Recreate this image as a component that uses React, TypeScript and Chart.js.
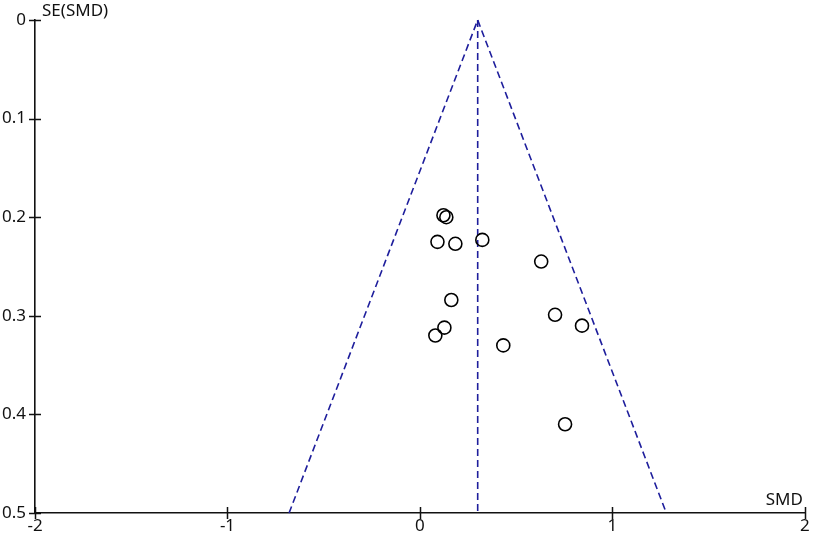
import React, { useEffect, useRef } from "react";
import { Chart, registerables } from "chart.js";

Chart.register(...registerables);

// Study estimates (SMD) and their standard errors
const smd = [0.122, 0.137, 0.091, 0.184, 0.324, 0.63, 0.163, 0.702, 0.842, 0.127, 0.08, 0.433, 0.754];
const se = [0.198, 0.2, 0.225, 0.227, 0.223, 0.245, 0.284, 0.299, 0.31, 0.312, 0.32, 0.33, 0.41];

// Funnel (pooled estimate and 95% limits at SE = 0.5)
const pooled = 0.3;
const funnelX = [-0.68, 0.3, 1.28];
const funnelY = [0.5, 0, 0.5];
const centerY = [0, 0.5];

const xTicks = [-2, -1, 0, 1, 2];
const yTicks = [0, 0.1, 0.2, 0.3, 0.4, 0.5];

const FONT = "'Noto Sans', 'Open Sans', sans-serif";
const BLUE = "#1e1e9c";

const extras = {
  id: "extras",
  afterDraw(chart: any) {
    const ctx = chart.ctx;
    const xs = chart.scales.x;
    const ys = chart.scales.y;
    const axX = xs.left;
    const axY = ys.bottom;
    ctx.save();
    ctx.strokeStyle = "#111";
    ctx.lineWidth = 1.5;
    ctx.beginPath();
    for (const v of yTicks) {
      const p = Math.round(ys.getPixelForValue(v)) + 0.5;
      ctx.moveTo(axX - 6, p);
      ctx.lineTo(axX + 6, p);
    }
    for (const v of xTicks) {
      const p = Math.round(xs.getPixelForValue(v)) + 0.5;
      ctx.moveTo(p, axY - 6);
      ctx.lineTo(p, axY + 6);
    }
    ctx.stroke();
    ctx.fillStyle = "#111";
    ctx.font = "17px " + FONT;
    ctx.textAlign = "left";
    ctx.textBaseline = "alphabetic";
    ctx.fillText("SE(SMD)", axX + 7, 16);
    ctx.textAlign = "right";
    ctx.fillText("SMD", xs.right - 2, axY - 8);
    ctx.restore();
  },
};

export default function App() {
  const ref = useRef<HTMLCanvasElement>(null);
  useEffect(() => {
    document.body.style.margin = "0";
    const chart = new Chart(ref.current as HTMLCanvasElement, {
      type: "scatter",
      data: {
        datasets: [
          {
            type: "line",
            data: funnelX.map((x, i) => ({ x, y: funnelY[i] })),
            borderColor: BLUE,
            borderWidth: 1.6,
            borderDash: [7, 4],
            pointRadius: 0,
            fill: false,
            clip: false as any,
            order: 2,
          },
          {
            type: "line",
            data: centerY.map((y) => ({ x: pooled, y })),
            borderColor: BLUE,
            borderWidth: 1.6,
            borderDash: [7, 4],
            pointRadius: 0,
            fill: false,
            clip: false as any,
            order: 2,
          },
          {
            type: "scatter",
            data: smd.map((x, i) => ({ x, y: se[i] })),
            pointRadius: 6.5,
            pointBackgroundColor: "rgba(255,255,255,0)",
            pointBorderColor: "#000",
            pointBorderWidth: 1.6,
            order: 1,
          },
        ],
      },
      options: {
        animation: false,
        responsive: false,
        events: [],
        layout: { padding: { left: 0, right: 6, top: 20, bottom: 0 } },
        plugins: { legend: { display: false }, tooltip: { enabled: false } },
        scales: {
          x: {
            type: "linear",
            min: -2,
            max: 2,
            afterBuildTicks: (s: any) => {
              s.ticks = xTicks.map((v) => ({ value: v }));
            },
            afterFit: (s: any) => {
              s.height = 22;
              s.paddingLeft = 0;
              s.paddingRight = 0;
            },
            grid: { display: false, drawTicks: false },
            border: { display: true, color: "#111", width: 1.6 },
            ticks: {
              color: "#111",
              font: { family: FONT, size: 17 },
              padding: 3,
              maxRotation: 0,
              autoSkip: false,
            },
          },
          y: {
            type: "linear",
            reverse: true,
            min: 0,
            max: 0.5,
            afterBuildTicks: (s: any) => {
              s.ticks = yTicks.map((v) => ({ value: v }));
            },
            afterFit: (s: any) => {
              s.width = 35;
              s.paddingTop = 0;
              s.paddingBottom = 0;
            },
            grid: { display: false, drawTicks: false },
            border: { display: true, color: "#111", width: 1.6 },
            ticks: {
              color: "#111",
              font: { family: FONT, size: 17 },
              padding: 9,
              autoSkip: false,
              callback: (v: any) => String(Math.round(Number(v) * 10) / 10),
            },
          },
        },
      },
      plugins: [extras],
    });
    return () => chart.destroy();
  }, []);
  return (
    <div style={{ position: "absolute", left: 0, top: 0, width: 813, height: 535, background: "#fff" }}>
      <canvas ref={ref} width={813} height={535} />
    </div>
  );
}
